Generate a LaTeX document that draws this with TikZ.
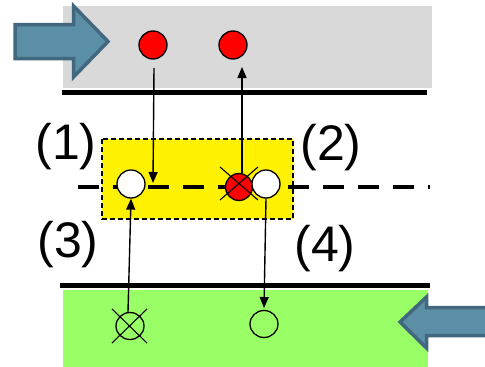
\documentclass[tikz,border=0pt]{standalone}
\usepackage{fontspec}
\setmainfont{Liberation Sans}
\usetikzlibrary{arrows.meta,shapes.geometric}
\definecolor{boxgray}{RGB}{217,217,217}
\definecolor{boxgreen}{RGB}{153,255,102}
\definecolor{arrowfill}{RGB}{91,143,166}
\definecolor{arrowedge}{RGB}{66,104,128}
\tikzset{
  bigarrow/.style={fill=arrowfill,draw=arrowedge,line width=3.5pt,line join=miter},
  partred/.style={circle,draw=black,line width=1.3pt,fill=red,minimum width=28pt,minimum height=26pt,inner sep=0pt},
  partwhite/.style={circle,draw=black,line width=1.3pt,fill=white,minimum width=28pt,inner sep=0pt},
  partopen/.style={ellipse,draw=black,line width=1.3pt,minimum width=28pt,minimum height=27pt,inner sep=0pt},
  crossline/.style={line width=1.1pt},
  flow/.style={line width=1.4pt,-{Triangle[length=11pt,width=9pt]}},
  wall/.style={line width=5pt},
  lbl/.style={font=\fontsize{50}{54}\selectfont,inner sep=0pt}
}
\begin{document}
\begin{tikzpicture}[x=1pt,y=-1pt]
\useasboundingbox (0,0) rectangle (485,367);
% top compartment
\fill[boxgray] (63,6) rectangle (432,88);
\draw[wall] (62,92) -- (427,92);
% bottom compartment
\fill[boxgreen] (63,290) rectangle (428,370);
\draw[wall] (60,285.5) -- (430,285.5);
% yellow box
\draw[fill=yellow,line width=1.3pt,dash pattern=on 5pt off 3pt] (102,139) rectangle (293,219);
% dashed membrane line
\draw[line width=4pt,dash pattern=on 21pt off 14pt] (78,186.5) -- (430,186.5);
% big arrows
\draw[bigarrow] (15,24.5) -- (73.5,24.5) -- (73.5,6) -- (108,41.5) -- (73.5,77) -- (73.5,58.5) -- (15,58.5) -- cycle;
\draw[bigarrow] (490,307.5) -- (426.5,307.5) -- (426.5,297) -- (400,322) -- (426.5,348) -- (426.5,335.5) -- (490,335.5) -- cycle;
% particles
\node[partred] (r1) at (153,45) {};
\node[partred] (r2) at (233,45) {};
\node[partwhite] (w1) at (131,184) {};
\node[partred,minimum width=27pt,minimum height=27pt] (rx) at (239,187) {};
\draw[crossline] (220,167) -- (258,200);
\draw[crossline] (220,200) -- (258,167);
\node[partwhite] (w2) at (266,184) {};
\node[partopen] (bx) at (130,326) {};
\draw[crossline] (112,309) -- (147,343);
\draw[crossline] (112,343) -- (147,309);
\node[partopen] (bo) at (264,324) {};
% arrow endpoints
\coordinate (a1s) at (154,68);
\coordinate (a1e) at (153,183);
\coordinate (a2e) at (242,67);
\coordinate (a3s) at (128,312);
\coordinate (a4e) at (264,308);
\draw[flow] (a1s) -- (a1e);
\draw[flow] (rx.north -| a2e) -- (a2e);
\draw[flow] (a3s) -- (w1.south);
\draw[flow] (w2.south) -- (a4e);
% labels
\node[lbl] (l1) at (66,147) {(1)};
\node[lbl] (l2) at (331,148) {(2)};
\node[lbl] (l3) at (68,245) {(3)};
\node[lbl] (l4) at (325,249) {(4)};
\end{tikzpicture}
\end{document}
